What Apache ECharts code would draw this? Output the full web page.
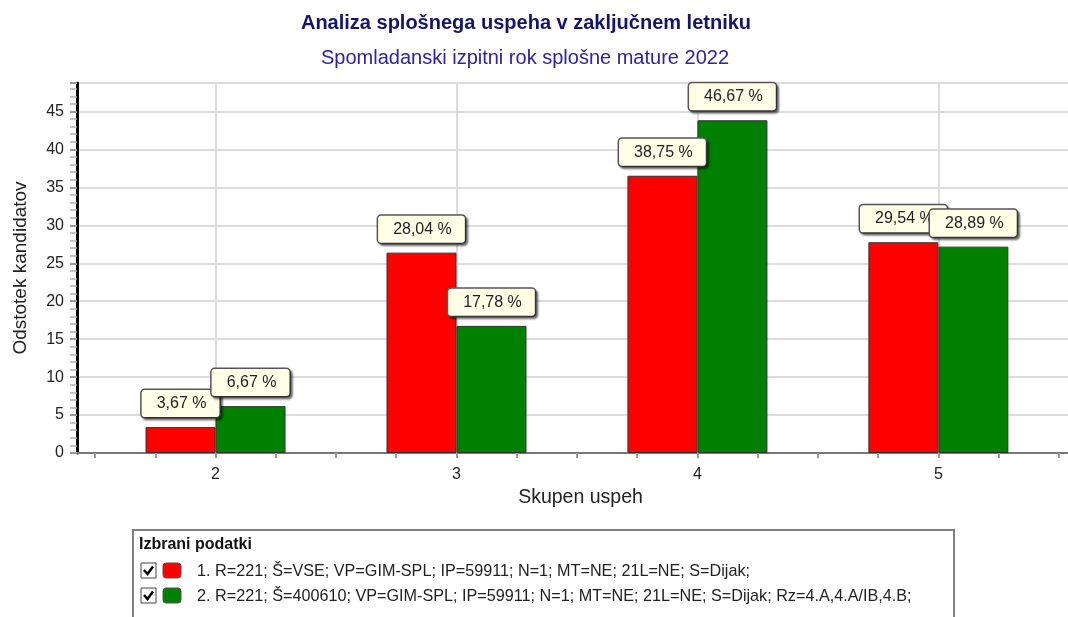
<!DOCTYPE html>
<html>
<head>
	<meta charset="utf-8">
	<script src="https://cdn.jsdelivr.net/npm/echarts@6/dist/echarts.min.js"></script>
	<style>
		html, body { margin: 0; padding: 0; background: #fff; }
		#chart { width: 1068px; height: 617px; }
	</style>
</head>
<body>
	<div id="chart"></div>
	<script>
		// ocene (skupen uspeh)
		var categories = [2, 3, 4, 5];
		// visina stolpcev, odcitana s slike
		var barsAll = [3.41, 26.4, 36.53, 27.77];
		var barsSchool = [6.18, 16.75, 43.84, 27.19];
		// napisi nad stolpci
		var labelsAll = ['3,67 %', '28,04 %', '38,75 %', '29,54 %'];
		var labelsSchool = ['6,67 %', '17,78 %', '46,67 %', '28,89 %'];
		var xTicks = [1.5, 1.75, 2, 2.25, 2.5, 2.75, 3, 3.25, 3.5, 3.75, 4, 4.25, 4.5, 4.75, 5, 5.25, 5.5];
		var legendTexts = [
			'1. R=221; Š=VSE; VP=GIM-SPL; IP=59911; N=1; MT=NE; 21L=NE; S=Dijak;',
			'2. R=221; Š=400610; VP=GIM-SPL; IP=59911; N=1; MT=NE; 21L=NE; S=Dijak; Rz=4.A,4.A/IB,4.B;'
		];
		var colors = ['#ff0000', '#008000'];

		var font = 'Arial, "Liberation Sans", sans-serif';

		function pairs(vals) {
			return categories.map(function (c, i) { return [c, vals[i]]; });
		}

		function barLabel(texts) {
			return {
				show: true,
				position: 'top',
				distance: 10,
				formatter: function (p) { return texts[p.dataIndex]; },
				color: '#222',
				fontSize: 16,
				fontFamily: font,
				lineHeight: 17,
				backgroundColor: '#ffffe8',
				borderColor: '#555',
				borderWidth: 1.5,
				borderRadius: 3,
				padding: [5, 13, 5, 15],
				shadowColor: 'rgba(0,0,0,0.45)',
				shadowOffsetX: 2,
				shadowOffsetY: 2,
				shadowBlur: 2
			};
		}

		// legenda "Izbrani podatki"
		var legendGraphic = [
			{ type: 'rect', shape: { x: 133, y: 530, width: 821, height: 110 },
			  style: { fill: '#fff', stroke: '#808080', lineWidth: 2 }, z: 1 },
			{ type: 'text', x: 139, y: 545, z: 2,
			  style: { text: 'Izbrani podatki', font: 'bold 16px ' + font, fill: '#111', verticalAlign: 'middle' } }
		];
		legendTexts.forEach(function (t, i) {
			var y = 563 + i * 25;
			legendGraphic.push(
				{ type: 'rect', shape: { x: 141, y: y, width: 15, height: 15 }, z: 2,
				  style: { fill: '#fff', stroke: '#444', lineWidth: 1 } },
				{ type: 'polyline', shape: { points: [[144, y + 7], [147.5, y + 11], [153, y + 3.5]] }, z: 3,
				  style: { stroke: '#000', lineWidth: 2.5, fill: null } },
				{ type: 'rect', shape: { x: 163, y: y, width: 18, height: 15, r: 3 }, z: 2,
				  style: { fill: colors[i], stroke: '#555', lineWidth: 1 } },
				{ type: 'text', x: 197, y: y + 9, z: 2,
				  style: { text: t, font: '16.2px ' + font, fill: '#222', verticalAlign: 'middle' } }
			);
		});

		var option = {
			animation: false,
			backgroundColor: '#fff',
			textStyle: { fontFamily: font },
			title: [
				{ text: 'Analiza splošnega uspeha v zaključnem letniku', left: 526, top: 13, textAlign: 'center', padding: 0,
				  textStyle: { fontSize: 20, fontWeight: 'bold', color: '#14146e', fontFamily: font } },
				{ text: 'Spomladanski izpitni rok splošne mature 2022', left: 525, top: 48, textAlign: 'center', padding: 0,
				  textStyle: { fontSize: 20, fontWeight: 'normal', color: '#2d22a8', fontFamily: font } }
			],
			grid: { left: 77, right: 0, top: 83, bottom: 164, containLabel: false },
			xAxis: [
				{
					type: 'value', position: 'bottom', min: 1.425, max: 5.538,
					axisLine: { show: true, onZero: false, lineStyle: { color: '#000', width: 2 } },
					axisTick: { show: true, customValues: xTicks, length: 5, lineStyle: { color: '#999', width: 2 } },
					axisLabel: { customValues: categories, color: '#222', fontSize: 16, margin: 14 },
					splitLine: { show: false },
					name: 'Skupen uspeh', nameLocation: 'middle', nameGap: 34,
					nameTextStyle: { fontSize: 19.5, color: '#222', padding: [0, 0, 0, 16] }
				},
				{
					type: 'value', position: 'top', min: 1.425, max: 5.538,
					axisLine: { show: true, lineStyle: { color: '#777', width: 2 } },
					axisTick: { show: false }, axisLabel: { show: false }, splitLine: { show: false }
				}
			],
			yAxis: [
				{
					type: 'value', min: 0, max: 48.75, interval: 5,
					axisLine: { show: false },
					axisTick: { show: true, length: 7, lineStyle: { color: '#999', width: 2 } },
					minorTick: { show: true, splitNumber: 5, length: 7, lineStyle: { color: '#b0b0b0', width: 1.5 } },
					axisLabel: { color: '#222', fontSize: 16, margin: 13, showMaxLabel: false,
						formatter: function (v) { return v % 5 === 0 ? String(v) : ''; } },
					splitLine: { show: true, lineStyle: { color: '#dcdcdc', width: 2 } },
					name: 'Odstotek kandidatov', nameLocation: 'middle', nameGap: 47, nameRotate: 90,
					nameTextStyle: { fontSize: 19, color: '#222' }
				},
				{
					// samo crna os, narisana cez oznake
					type: 'value', position: 'left', min: 0, max: 48.75, interval: 5,
					axisLine: { show: true, lineStyle: { color: '#000', width: 3 } },
					axisTick: { show: false }, axisLabel: { show: false }, splitLine: { show: false }
				}
			],
			series: [
				{
					type: 'line', data: [], z: 1, silent: true,
					markLine: {
						z: 1, silent: true, symbol: 'none', label: { show: false },
						lineStyle: { color: '#dcdcdc', width: 2, type: 'solid' },
						data: categories.map(function (c) { return { xAxis: c }; })
					}
				},
				{
					name: 'VSE', type: 'bar', data: pairs(barsAll), barWidth: 70, barGap: '0%',
					itemStyle: { color: colors[0], borderColor: '#333', borderWidth: 1 },
					label: barLabel(labelsAll)
				},
				{
					name: '400610', type: 'bar', data: pairs(barsSchool), barWidth: 70, barGap: '0%',
					itemStyle: { color: colors[1], borderColor: '#333', borderWidth: 1 },
					label: barLabel(labelsSchool)
				}
			],
			graphic: legendGraphic
		};

		var myChart = echarts.init(document.getElementById('chart'), null, { renderer: 'canvas', width: 1068, height: 617 });
		myChart.setOption(option);
	</script>
</body>
</html>
